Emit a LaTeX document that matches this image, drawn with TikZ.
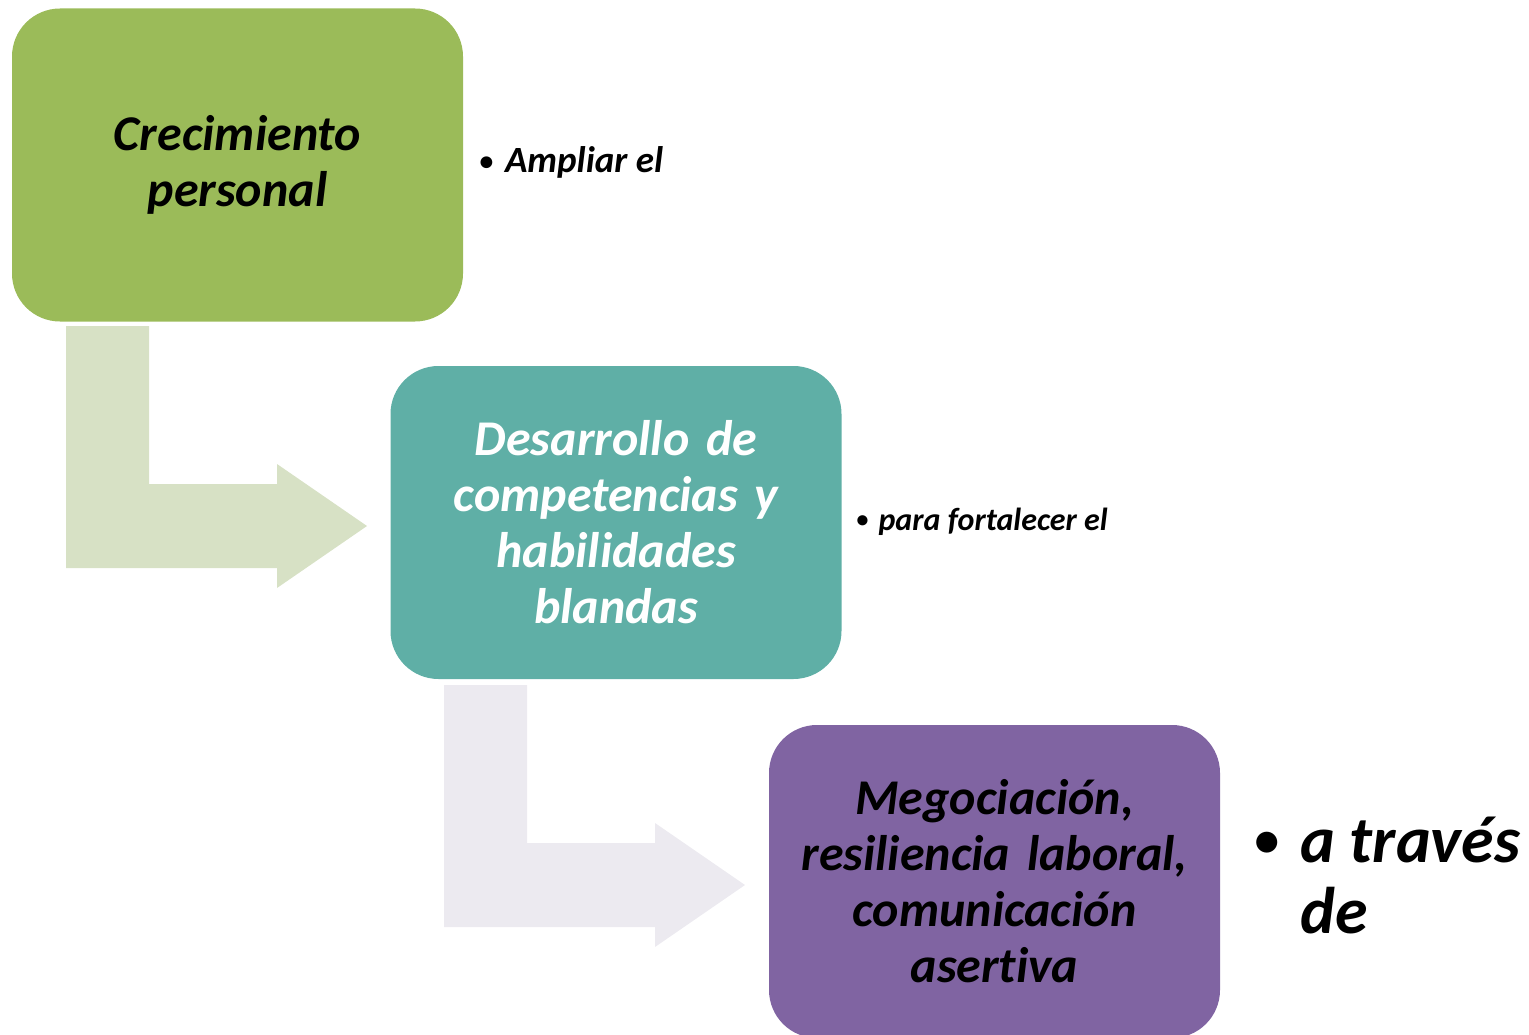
\documentclass[tikz,border=0pt]{standalone}
\usepackage{fontspec}
\setmainfont{Carlito}[Ligatures=NoCommon]

\definecolor{crecGreen}{HTML}{9BBB59}
\definecolor{desaTeal}{HTML}{5FAFA6}
\definecolor{megoPurple}{HTML}{8064A2}
\definecolor{arrowGreen}{HTML}{D7E1C5}
\definecolor{arrowLilac}{HTML}{ECEAF0}

\newcommand{\listbul}{\raisebox{0.08em}{\scalebox{0.75}{•}}\hspace{0.32em}}

\tikzset{every picture/.style={line width=0.75pt}}
\tikzset{
  stagebox/.style={draw=none, rounded corners=48pt, minimum width=451pt, minimum height=313pt,
    text width=440pt, align=center, inner sep=0pt,
    font=\fontsize{50}{56}\selectfont\bfseries\itshape},
  bullettext/.style={anchor=base west, inner sep=0pt, align=left, font=\bfseries\itshape},
}

\begin{document}
\begin{tikzpicture}[x=1pt,y=1pt,yscale=-1,xscale=1]
\useasboundingbox (0,0) rectangle (1529,1035);

%Bent Arrow [id:arrow1]
\fill [arrowGreen] (66,326) -- (149,326) -- (149,484) -- (277,484) -- (277,464) -- (367,526) -- (277,588) -- (277,568) -- (66,568) -- cycle ;
%Bent Arrow [id:arrow2]
\fill [arrowLilac] (444,685) -- (527,685) -- (527,843) -- (655,843) -- (655,823) -- (745,885) -- (655,947) -- (655,927) -- (444,927) -- cycle ;

%Rounded Rect [id:crec]
\draw (237.5,165) node [stagebox, fill=crecGreen, text=black] (crec) {Crecimiento\\personal};
%Rounded Rect [id:desa]
\draw (616,522.5) node [stagebox, fill=desaTeal, text=white] (desa) {Desarrollo de\\competencias y\\habilidades\\blandas};
%Rounded Rect [id:mego]
\draw (994.5,881.5) node [stagebox, fill=megoPurple, text=black] (mego) {Megociación,\\resiliencia laboral,\\comunicación\\asertiva};

% Text Node
\draw (479,173) node [bullettext, font=\fontsize{37}{42}\selectfont\bfseries\itshape] (ampl) {\listbul Ampliar el};
% Text Node
\draw (856,530) node [bullettext, font=\fontsize{32}{38}\selectfont\bfseries\itshape] (fort) {\listbul para fortalecer el};
% Text Node
\draw (1254,933) node [bullettext, font=\fontsize{66}{71}\selectfont\bfseries\itshape] (trav) {\listbul a través\\\phantom{\listbul}de};

\end{tikzpicture}
\end{document}
